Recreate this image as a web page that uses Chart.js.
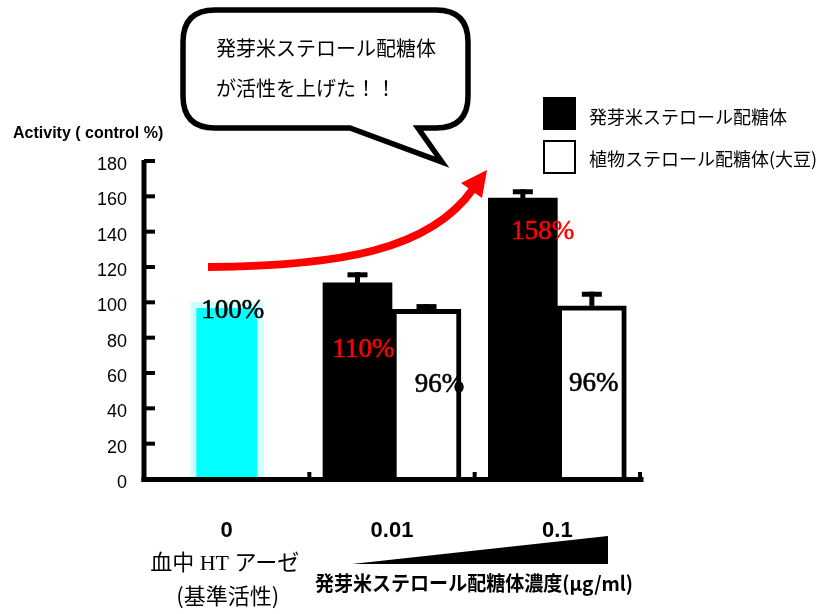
<!DOCTYPE html>
<html lang="ja">
<head>
<meta charset="UTF-8">
<title>発芽米ステロール配糖体</title>
<script src="https://cdn.jsdelivr.net/npm/chart.js@4.4.0/dist/chart.umd.min.js"></script>
<style>
    html, body { margin: 0; padding: 0; background: #fff; }
    #chart { display: block; }
</style>
</head>
<body>
<canvas id="chart" width="827" height="614"></canvas>
<script>
// Data
const categories = ['0', '0.01', '0.1'];
const riceLabel = '発芽米ステロール配糖体';
const soyLabel = '植物ステロール配糖体(大豆)';
const baseLabel = '血中HTアーゼ';
const riceValues = [null, 111, 159];
const soyValues = [null, 96, 98];
const baseValues = [100, null, null];
const riceErrors = [0, 6, 5];
const soyErrors = [0, 3, 8];
const ricePct = [null, '110%', '158%'];
const soyPct = [null, '96%', '96%'];
const basePct = ['100%', null, null];
const yMin = 0;
const yMax = 180;
const yStep = 20;

// Label positions relative to the bar top (style only)
const pctOffsets = {
    rice: [null, [6, 67], [20, 34]],
    soy: [null, [13, 76], [2, 78]],
    base: [[6, 9], null, null]
};

const JP = '"Noto Sans CJK JP"';

function drawErrorBar(ctx, bar, yErr) {
    ctx.fillStyle = '#000';
    ctx.fillRect(bar.x - 2.5, yErr, 5, bar.y - yErr);
    ctx.fillRect(bar.x - 10, yErr, 20, 5);
}

function drawBubble(ctx) {
    const l = 183, t = 10, r = 468, b = 128, rad = 32;
    ctx.beginPath();
    ctx.moveTo(l + rad, t);
    ctx.lineTo(r - rad, t);
    ctx.quadraticCurveTo(r, t, r, t + rad);
    ctx.lineTo(r, b - rad);
    ctx.quadraticCurveTo(r, b, r - rad, b);
    ctx.lineTo(418, b);
    ctx.lineTo(442, 162);
    ctx.lineTo(350, b);
    ctx.lineTo(l + rad, b);
    ctx.quadraticCurveTo(l, b, l, b - rad);
    ctx.lineTo(l, t + rad);
    ctx.quadraticCurveTo(l, t, l + rad, t);
    ctx.closePath();
    ctx.fillStyle = '#fff';
    ctx.fill();
    ctx.lineWidth = 5.5;
    ctx.lineJoin = 'miter';
    ctx.strokeStyle = '#000';
    ctx.stroke();

    ctx.fillStyle = '#000';
    ctx.font = '20px ' + JP;
    ctx.textAlign = 'left';
    ctx.textBaseline = 'middle';
    ctx.fillText('発芽米ステロール配糖体', 216, 48);
    ctx.fillText('が活性を上げた！！', 216, 88);
}

function drawArrow(ctx) {
    ctx.strokeStyle = '#ff0000';
    ctx.fillStyle = '#ff0000';
    ctx.lineWidth = 8;
    ctx.lineCap = 'butt';
    ctx.beginPath();
    ctx.moveTo(208, 267);
    ctx.bezierCurveTo(340, 266, 430, 250, 473, 189);
    ctx.stroke();
    ctx.beginPath();
    ctx.moveTo(487, 170);
    ctx.lineTo(461, 183);
    ctx.lineTo(482, 198);
    ctx.closePath();
    ctx.fill();
}

const decorPlugin = {
    id: 'decor',
    afterDatasetsDraw(chart) {
        const ctx = chart.ctx;
        const x = chart.scales.x;
        const y = chart.scales.y;
        const area = chart.chartArea;
        ctx.save();

        // axes
        ctx.fillStyle = '#000';
        ctx.fillRect(area.left - 2.5, area.top - 1, 5, area.bottom - area.top + 4);
        ctx.fillRect(area.left - 2.5, area.bottom - 2, area.right - area.left + 6, 5);
        for (let v = yMin + yStep; v <= yMax; v += yStep) {
            const py = y.getPixelForValue(v);
            ctx.fillRect(area.left, py - 2, 11, 4);
        }
        for (let i = 0; i < categories.length; i++) {
            const px = i < categories.length - 1
                ? (x.getPixelForValue(i) + x.getPixelForValue(i + 1)) / 2
                : area.right;
            ctx.fillRect(px - 2, area.bottom - 7, 4, 7);
        }

        // error bars
        const errs = [riceErrors, soyErrors];
        const vals = [riceValues, soyValues];
        errs.forEach((err, d) => {
            const meta = chart.getDatasetMeta(d);
            err.forEach((e, i) => {
                if (vals[d][i] === null || !e) return;
                drawErrorBar(ctx, meta.data[i], y.getPixelForValue(vals[d][i] + e));
            });
        });

        // percentage labels
        ctx.font = '27px "Liberation Serif"';
        ctx.textAlign = 'center';
        ctx.textBaseline = 'middle';
        ctx.lineWidth = 0.6;
        const pctSets = [
            [ricePct, pctOffsets.rice, '#ff0000', 0],
            [soyPct, pctOffsets.soy, '#000', 1],
            [basePct, pctOffsets.base, '#000', 2]
        ];
        pctSets.forEach(([texts, offs, color, d]) => {
            const meta = chart.getDatasetMeta(d);
            texts.forEach((t, i) => {
                if (!t) return;
                const bar = meta.data[i];
                ctx.fillStyle = color;
                ctx.strokeStyle = color;
                ctx.fillText(t, bar.x + offs[i][0], bar.y + offs[i][1]);
                ctx.strokeText(t, bar.x + offs[i][0], bar.y + offs[i][1]);
            });
        });

        // y title
        ctx.fillStyle = '#000';
        ctx.textAlign = 'left';
        ctx.font = 'bold 16px "Liberation Sans"';
        ctx.fillText('Activity ( control %)', 13, 134, 152);

        // legend
        ctx.fillRect(543, 97, 33, 33);
        ctx.lineWidth = 2;
        ctx.strokeStyle = '#000';
        ctx.strokeRect(544, 141, 31, 32);
        ctx.font = '18px ' + JP;
        ctx.fillText(riceLabel, 589, 117);
        ctx.fillText(soyLabel, 589, 159);

        // under the x axis
        const x0 = x.getPixelForValue(0);
        ctx.textAlign = 'center';
        ctx.font = '22px "Liberation Serif", ' + JP;
        ctx.fillText('血中 HT アーゼ', x0 - 2, 564);
        ctx.font = '22px ' + JP;
        ctx.fillText('(基準活性)', x0 + 1, 596);

        ctx.beginPath();
        ctx.moveTo(352, 564);
        ctx.lineTo(608, 536);
        ctx.lineTo(608, 564);
        ctx.closePath();
        ctx.fill();

        ctx.textAlign = 'left';
        ctx.font = 'bold 20px ' + JP;
        ctx.fillText('発芽米ステロール配糖体濃度(μg/ml)', 315, 583, 318);

        drawArrow(ctx);
        drawBubble(ctx);
        ctx.restore();
    }
};

const chart = new Chart(document.getElementById('chart'), {
    type: 'bar',
    data: {
        labels: categories,
        datasets: [{
            label: riceLabel,
            data: riceValues,
            backgroundColor: '#000',
            borderWidth: 0,
            barThickness: 69,
            skipNull: true
        }, {
            label: soyLabel,
            data: soyValues,
            backgroundColor: '#fff',
            borderColor: '#000',
            borderWidth: 5,
            barThickness: 69,
            skipNull: true
        }, {
            label: baseLabel,
            data: baseValues,
            backgroundColor: '#00ffff',
            borderColor: '#ccffff',
            borderWidth: 6,
            barThickness: 72,
            grouped: false
        }]
    },
    options: {
        responsive: false,
        animation: false,
        layout: {
            padding: { left: 0, top: 161, right: 187, bottom: 0 }
        },
        plugins: {
            legend: { display: false },
            tooltip: { enabled: false }
        },
        scales: {
            x: {
                grid: { display: false },
                border: { display: false },
                ticks: {
                    color: '#000',
                    padding: 31,
                    font: { family: 'Liberation Sans', size: 22, weight: 'bold' }
                },
                afterFit: s => { s.height = 135; }
            },
            y: {
                min: yMin,
                max: yMax,
                grid: { display: false, drawTicks: false },
                border: { display: false },
                ticks: {
                    stepSize: yStep,
                    color: '#000',
                    padding: 17,
                    labelOffset: 4,
                    font: { family: 'Liberation Sans', size: 18 }
                },
                afterFit: s => { s.width = 144; }
            }
        }
    },
    plugins: [decorPlugin]
});
</script>
</body>
</html>
